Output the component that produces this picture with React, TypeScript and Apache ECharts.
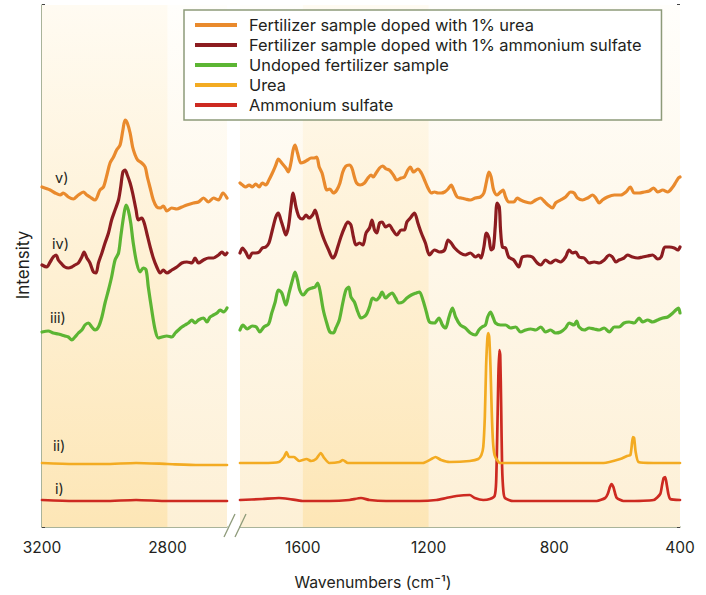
import React, { useEffect, useRef } from "react";
import * as echarts from "echarts";

// Legend names (top to bottom) and colours
const seriesNames = [
  "Fertilizer sample doped with 1% urea",
  "Fertilizer sample doped with 1% ammonium sulfate",
  "Undoped fertilizer sample",
  "Urea",
  "Ammonium sulfate",
];
const seriesColors = ["#e98a2d", "#8c1c20", "#5cb533", "#f3ab22", "#cd2a21"];
const curveLabels = ["v)", "iv)", "iii)", "ii)", "i)"];

// x ranges of the two panels (broken axis), wavenumbers in cm-1
const leftRange = [2610, 3200];
const rightRange = [400, 1800];
const leftTicks = [3200, 2800];
const rightTicks = [1600, 1200, 800, 400];
const leftShade = [3200, 2800];
const rightShade = [1600, 1200];
const yMax = 522;
const yStep = 58;

// spectra: [wavenumber, intensity (offset, a.u.)]
const dopedUrea: [number, number][] = [
  [3200, 340], [3174, 337], [3158, 334], [3142, 332], [3132, 334], [3116, 330], [3100, 328], [3084, 332], [3068, 335], [3057, 332], [3047, 330], [3031, 327], [3015, 337], [3004, 340], [2993, 352], [2983, 364], [2972, 370], [2962, 377], [2951, 382], [2942, 397], [2935, 407], [2928, 404], [2919, 394], [2911, 380], [2903, 372], [2895, 367], [2882, 364], [2871, 360], [2864, 350], [2855, 339], [2845, 327], [2834, 320], [2823, 319], [2813, 321], [2802, 316], [2786, 319], [2770, 318], [2754, 320], [2738, 322], [2717, 324], [2701, 325], [2685, 329], [2669, 325], [2653, 329], [2637, 327], [2623, 334], [2610, 329],
  [1800, 344], [1792, 342], [1782, 340], [1771, 342], [1761, 340], [1750, 343], [1739, 340], [1729, 344], [1718, 342], [1708, 347], [1697, 354], [1686, 362], [1678, 368], [1667, 364], [1654, 359], [1646, 355], [1638, 364], [1631, 377], [1625, 382], [1617, 374], [1606, 364], [1596, 365], [1585, 367], [1574, 369], [1564, 369], [1556, 370], [1548, 360], [1539, 354], [1532, 345], [1524, 337], [1514, 338], [1503, 334], [1492, 337], [1482, 344], [1473, 355], [1463, 361], [1452, 362], [1444, 359], [1436, 350], [1429, 344], [1418, 342], [1404, 344], [1393, 349], [1383, 352], [1376, 350], [1367, 354], [1356, 359], [1346, 361], [1335, 358], [1325, 357], [1312, 352], [1301, 347], [1287, 349], [1277, 350], [1266, 357], [1258, 360], [1248, 355], [1234, 358], [1223, 354], [1213, 347], [1202, 339], [1191, 334], [1181, 335], [1170, 334], [1160, 334], [1149, 335], [1138, 338], [1128, 342], [1120, 337], [1109, 330], [1096, 329], [1083, 328], [1067, 327], [1051, 329], [1035, 330], [1024, 334], [1016, 345], [1008, 355], [1001, 350], [993, 337], [982, 332], [971, 335], [963, 337], [955, 330], [945, 325], [929, 325], [918, 329], [907, 327], [891, 325], [875, 324], [859, 327], [843, 329], [833, 326], [820, 322], [806, 319], [796, 324], [780, 327], [764, 330], [748, 335], [737, 334], [726, 329], [710, 327], [694, 329], [678, 332], [668, 329], [657, 324], [647, 327], [631, 330], [609, 332], [588, 332], [572, 335], [558, 340], [546, 334], [530, 334], [514, 335], [498, 336], [484, 339], [471, 335], [455, 337], [439, 335], [423, 340], [413, 345], [405, 349], [400, 350],
];

const dopedSulfate: [number, number][] = [
  [3200, 262], [3185, 260], [3174, 265], [3164, 270], [3155, 272], [3148, 267], [3137, 263], [3127, 260], [3116, 259], [3105, 260], [3095, 262], [3084, 264], [3073, 270], [3066, 275], [3057, 269], [3047, 264], [3036, 255], [3028, 254], [3020, 264], [3009, 274], [2999, 284], [2988, 294], [2978, 307], [2967, 317], [2956, 327], [2949, 340], [2942, 355], [2935, 357], [2928, 352], [2919, 344], [2911, 334], [2900, 317], [2893, 307], [2882, 309], [2874, 304], [2866, 294], [2855, 280], [2845, 269], [2834, 260], [2823, 254], [2813, 257], [2802, 254], [2786, 257], [2770, 260], [2754, 264], [2738, 265], [2722, 264], [2712, 269], [2701, 264], [2685, 267], [2669, 269], [2653, 269], [2637, 272], [2626, 275], [2616, 272], [2610, 274],
  [1800, 274], [1792, 279], [1782, 275], [1771, 269], [1761, 274], [1750, 274], [1739, 275], [1729, 279], [1718, 280], [1708, 284], [1697, 297], [1686, 310], [1678, 314], [1670, 307], [1663, 300], [1654, 292], [1646, 300], [1638, 320], [1631, 334], [1622, 320], [1612, 310], [1601, 308], [1590, 312], [1580, 309], [1569, 312], [1561, 317], [1553, 309], [1543, 297], [1532, 287], [1518, 277], [1505, 269], [1497, 272], [1489, 280], [1479, 290], [1468, 299], [1457, 305], [1447, 302], [1439, 290], [1431, 282], [1420, 284], [1409, 282], [1399, 294], [1388, 299], [1380, 307], [1372, 297], [1365, 294], [1356, 304], [1348, 305], [1337, 300], [1325, 302], [1314, 297], [1301, 292], [1287, 297], [1277, 297], [1269, 305], [1258, 309], [1245, 314], [1234, 304], [1223, 294], [1210, 284], [1197, 272], [1181, 277], [1165, 275], [1149, 277], [1138, 287], [1128, 284], [1117, 279], [1099, 274], [1083, 272], [1067, 274], [1051, 270], [1040, 272], [1033, 269], [1024, 280], [1016, 294], [1008, 289], [1001, 277], [994, 279], [988, 300], [982, 324], [975, 320], [971, 297], [965, 280], [955, 279], [945, 270], [929, 267], [913, 260], [902, 270], [886, 271], [870, 270], [854, 264], [843, 262], [828, 267], [812, 264], [796, 267], [780, 265], [764, 270], [753, 277], [742, 274], [732, 275], [721, 270], [705, 269], [689, 264], [673, 265], [657, 264], [641, 267], [625, 272], [615, 270], [604, 265], [594, 267], [578, 269], [567, 272], [551, 270], [535, 269], [519, 270], [503, 271], [487, 272], [471, 268], [460, 270], [448, 280], [434, 280], [418, 279], [407, 277], [400, 280],
];

const undoped: [number, number][] = [
  [3200, 195], [3180, 196], [3164, 194], [3148, 193], [3137, 192], [3127, 191], [3116, 190], [3105, 187], [3095, 190], [3084, 194], [3073, 197], [3063, 202], [3052, 204], [3041, 200], [3031, 197], [3020, 200], [3009, 210], [2999, 224], [2988, 237], [2978, 250], [2967, 267], [2956, 274], [2949, 290], [2940, 310], [2932, 322], [2925, 317], [2917, 304], [2909, 284], [2898, 264], [2887, 255], [2877, 259], [2868, 257], [2861, 240], [2850, 217], [2839, 197], [2829, 189], [2818, 190], [2802, 191], [2786, 190], [2775, 194], [2765, 197], [2754, 200], [2744, 202], [2733, 204], [2722, 207], [2712, 204], [2701, 207], [2685, 209], [2674, 205], [2664, 210], [2653, 212], [2642, 214], [2632, 217], [2621, 215], [2610, 219],
  [1800, 197], [1791, 202], [1777, 198], [1761, 201], [1748, 200], [1737, 195], [1724, 200], [1709, 203], [1699, 214], [1688, 225], [1678, 237], [1667, 234], [1654, 222], [1644, 234], [1633, 247], [1625, 255], [1617, 247], [1610, 237], [1599, 232], [1585, 237], [1571, 239], [1561, 240], [1553, 244], [1546, 237], [1535, 217], [1524, 204], [1514, 195], [1503, 194], [1495, 199], [1484, 207], [1473, 224], [1463, 237], [1454, 240], [1447, 230], [1436, 225], [1425, 215], [1415, 209], [1399, 212], [1388, 220], [1378, 229], [1367, 227], [1356, 230], [1348, 235], [1337, 229], [1326, 232], [1316, 234], [1305, 229], [1295, 224], [1282, 225], [1269, 229], [1255, 232], [1239, 234], [1229, 235], [1218, 227], [1207, 215], [1197, 205], [1181, 204], [1167, 209], [1156, 202], [1146, 199], [1135, 210], [1124, 219], [1114, 210], [1099, 202], [1083, 199], [1067, 194], [1051, 192], [1040, 197], [1030, 200], [1019, 202], [1012, 210], [1003, 215], [994, 209], [987, 204], [971, 202], [955, 202], [939, 199], [923, 200], [907, 195], [891, 197], [875, 198], [859, 197], [843, 200], [828, 195], [812, 197], [796, 194], [780, 195], [764, 199], [753, 204], [737, 202], [729, 206], [721, 200], [705, 197], [689, 199], [673, 198], [657, 197], [641, 199], [625, 195], [609, 200], [594, 200], [578, 204], [562, 205], [546, 204], [530, 209], [519, 205], [503, 207], [487, 205], [471, 207], [455, 209], [439, 210], [423, 214], [413, 217], [405, 219], [400, 214],
];

const urea: [number, number][] = [
  [3200, 64], [3100, 63], [3000, 63], [2900, 64], [2800, 63], [2700, 62], [2610, 62],
  [1800, 64], [1729, 64], [1676, 65], [1660, 70], [1652, 75], [1644, 70], [1628, 70], [1612, 66], [1588, 68], [1574, 66], [1558, 68], [1543, 74], [1532, 69], [1516, 64], [1484, 65], [1473, 67], [1457, 64], [1388, 64], [1282, 64], [1218, 64], [1191, 68], [1178, 70], [1160, 67], [1133, 65], [1069, 66], [1042, 68], [1032, 72], [1026, 80], [1021, 110], [1017, 160], [1013, 188], [1010, 194], [1007, 190], [1003, 160], [999, 115], [995, 85], [990, 72], [982, 67], [973, 64], [910, 64], [750, 64], [643, 64], [590, 68], [569, 71], [558, 72], [554, 80], [550, 90], [546, 89], [541, 75], [532, 65], [484, 64], [400, 64],
];

const ammoniumSulfate: [number, number][] = [
  [3200, 27], [3100, 26], [3000, 26], [2900, 27], [2800, 26], [2700, 26], [2610, 26],
  [1800, 27], [1729, 28], [1676, 29], [1644, 28], [1601, 26], [1516, 26], [1452, 27], [1415, 29], [1388, 27], [1335, 26], [1229, 26], [1175, 27], [1144, 29], [1112, 31], [1069, 32], [1053, 29], [1026, 27], [1005, 28], [990, 31], [985, 45], [981, 100], [978, 150], [975, 177], [972, 172], [969, 120], [966, 60], [962, 36], [957, 29], [931, 26], [665, 26], [638, 29], [630, 33], [623, 40], [618, 43], [612, 40], [606, 33], [601, 29], [580, 26], [484, 27], [463, 33], [457, 42], [452, 49], [447, 50], [442, 42], [437, 33], [431, 28], [400, 27],
];

const spectra = [dopedUrea, dopedSulfate, undoped, urea, ammoniumSulfate];
const lineWidths = [3.2, 3.2, 3.2, 2.7, 2.7];
const smoothing = [0.3, 0.3, 0.3, 0.2, 0.2];

const FONT = "Inter";
const AXIS_GREEN = "#8d9a79";
const TEXT = "#231f20";

function bgGradient() {
  return new echarts.graphic.LinearGradient(0, 0, 0, 1, [
    { offset: 0, color: "#fffefb" },
    { offset: 1, color: "#fdf0d6" },
  ]);
}
function bandGradient() {
  return new echarts.graphic.LinearGradient(0, 0, 0, 1, [
    { offset: 0, color: "#fffbf2" },
    { offset: 1, color: "#fde6b6" },
  ]);
}

export default function App() {
  const ref = useRef<HTMLDivElement>(null);

  useEffect(() => {
    if (!ref.current) return;
    const chart = echarts.init(ref.current, undefined, { renderer: "svg" });

    const series: any[] = [];
    // background shading (drawn first)
    series.push({
      type: "line",
      xAxisIndex: 0,
      yAxisIndex: 0,
      data: [],
      silent: true,
      z: 0,
      markArea: {
        silent: true,
        data: [
          [
            { xAxis: leftRange[1], yAxis: 0, itemStyle: { color: bgGradient(), opacity: 1 } },
            { xAxis: leftRange[0], yAxis: yMax },
          ],
          [
            { xAxis: leftShade[0], yAxis: 0, itemStyle: { color: bandGradient(), opacity: 1 } },
            { xAxis: leftShade[1], yAxis: yMax },
          ],
        ],
      },
    });
    series.push({
      type: "line",
      xAxisIndex: 1,
      yAxisIndex: 1,
      data: [],
      silent: true,
      z: 0,
      markArea: {
        silent: true,
        data: [
          [
            { xAxis: rightRange[1], yAxis: 0, itemStyle: { color: bgGradient(), opacity: 1 } },
            { xAxis: rightRange[0], yAxis: yMax },
          ],
          [
            { xAxis: rightShade[0], yAxis: 0, itemStyle: { color: bandGradient(), opacity: 1 } },
            { xAxis: rightShade[1], yAxis: yMax },
          ],
        ],
      },
    });

    // draw bottom spectra first so upper ones sit on top
    const order = [4, 3, 2, 1, 0];
    order.forEach((i) => {
      const pts = spectra[i];
      const left = pts.filter((p) => p[0] >= leftRange[0]);
      const right = pts.filter((p) => p[0] <= rightRange[1]);
      [left, right].forEach((d, k) => {
        series.push({
          type: "line",
          name: seriesNames[i],
          xAxisIndex: k,
          yAxisIndex: k,
          data: d,
          symbol: "none",
          smooth: smoothing[i],
          color: seriesColors[i],
          lineStyle: { color: seriesColors[i], width: lineWidths[i], cap: "round", join: "round" },
          z: 3,
          silent: true,
        });
      });
    });

    const xAxisCommon = {
      type: "value",
      inverse: true,
      axisLine: { show: true, onZero: false, lineStyle: { color: AXIS_GREEN, width: 1.5 } },
      axisTick: { show: false },
      splitLine: { show: false },
    };
    const yAxisCommon = {
      type: "value",
      min: 0,
      max: yMax,
      interval: yStep,
      axisLabel: { show: false },
      splitLine: { show: false },
      axisTick: { show: true, inside: true, length: 3, lineStyle: { color: "#444", width: 2 } },
    };
    const tickLabel = (ticks: number[]) => ({
      customValues: ticks,
      fontSize: 15.5,
      color: TEXT,
      margin: 12,
      fontFamily: FONT,
      formatter: (v: number) => String(v),
    });

    const labelY = [177, 243, 317, 445, 488];
    const labelX = [55, 52, 50, 53, 55];

    chart.setOption({
      animation: false,
      backgroundColor: "#ffffff",
      textStyle: { fontFamily: FONT },
      grid: [
        { left: 42, top: 5, width: 185, height: 522 },
        { left: 240, top: 5, width: 440, height: 522 },
      ],
      xAxis: [
        { ...xAxisCommon, gridIndex: 0, min: leftRange[0], max: leftRange[1], axisLabel: tickLabel(leftTicks) },
        { ...xAxisCommon, gridIndex: 1, min: rightRange[0], max: rightRange[1], axisLabel: tickLabel(rightTicks) },
      ],
      yAxis: [
        {
          ...yAxisCommon,
          gridIndex: 0,
          position: "left",
          axisLine: { show: true, onZero: false, lineStyle: { color: AXIS_GREEN, width: 1.5 } },
        },
        {
          ...yAxisCommon,
          gridIndex: 1,
          position: "right",
          axisLine: { show: false, onZero: false },
        },
      ],
      legend: {
        data: seriesNames,
        orient: "vertical",
        left: 184,
        top: 10,
        padding: [5, 20, 5, 11],
        itemWidth: 42,
        itemHeight: 4,
        itemGap: 0,
        icon: "rect",
        selectedMode: false,
        backgroundColor: "#ffffff",
        borderColor: AXIS_GREEN,
        borderWidth: 1.5,
        borderRadius: 0,
        textStyle: { fontSize: 16.4, lineHeight: 20, color: TEXT, fontFamily: FONT, padding: [0, 0, 0, 7] },
      },
      graphic: [
        {
          type: "line",
          shape: { x1: 224, y1: 537, x2: 235, y2: 514 },
          style: { stroke: AXIS_GREEN, lineWidth: 1.3 },
          z: 10,
        },
        {
          type: "line",
          shape: { x1: 235, y1: 537, x2: 246, y2: 514 },
          style: { stroke: AXIS_GREEN, lineWidth: 1.3 },
          z: 10,
        },
        {
          type: "text",
          x: 23,
          y: 265,
          rotation: Math.PI / 2,
          style: { text: "Intensity", font: `17px ${FONT}`, fill: TEXT, align: "center", verticalAlign: "middle" },
        },
        {
          type: "text",
          x: 373,
          y: 582,
          style: { text: "Wavenumbers (cm\u207B\u00B9)", font: `15.8px ${FONT}`, fill: TEXT, align: "center", verticalAlign: "middle" },
        },
        ...curveLabels.map((t, i) => ({
          type: "text",
          x: labelX[i],
          y: labelY[i],
          z: 10,
          style: { text: t, font: `14.5px ${FONT}`, fill: TEXT, align: "left", verticalAlign: "middle" },
        })),
      ],
      series,
    });

    return () => chart.dispose();
  }, []);

  return (
    <div
      ref={ref}
      style={{ position: "fixed", left: 0, top: 0, width: 706, height: 595, background: "#fff" }}
    />
  );
}
